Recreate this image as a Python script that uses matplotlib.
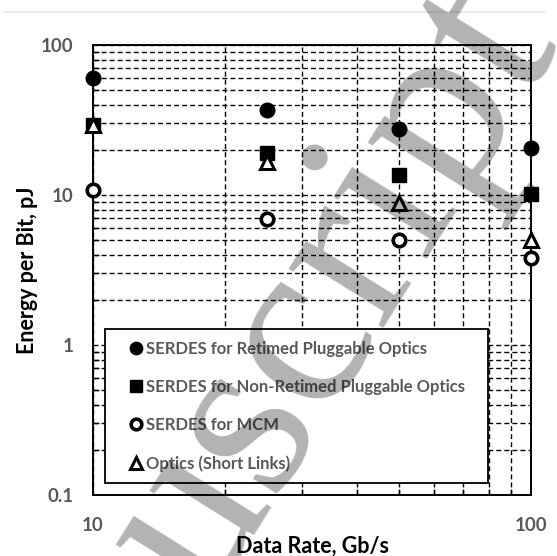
import matplotlib
matplotlib.use("Agg")
import matplotlib.pyplot as plt
from matplotlib.lines import Line2D
from matplotlib.ticker import LogLocator, FixedLocator, NullFormatter, FixedFormatter

plt.rcParams["font.family"] = ["Lato", "DejaVu Sans"]

# data
data_rate = [10, 25, 50, 100]
retimed = [60, 37, 27.5, 20.5]
non_retimed = [29.5, 19, 13.6, 10.2]
mcm = [10.8, 6.9, 5.0, 3.8]
optics = [29.5, 16.6, 8.9, 5.0]

series_labels = [
    "SERDES for Retimed Pluggable Optics",
    "SERDES for Non-Retimed Pluggable Optics",
    "SERDES for MCM",
    "Optics (Short Links)",
]

x_ticks = [10, 100]
x_tick_labels = ["10", "100"]
y_ticks = [0.1, 1, 10, 100]
y_tick_labels = ["0.1", "1", "10", "100"]

GRAY_TXT = "#595959"

fig = plt.figure(figsize=(5.57, 5.56), dpi=100, facecolor="white")
ax = fig.add_axes([93 / 557, 61 / 556, 438 / 557, 450 / 556])

ax.set_xscale("log")
ax.set_yscale("log")
ax.set_xlim(10, 100)
ax.set_ylim(0.1, 100)

# dashed grid, major + minor
dash = (0, (3.6, 2.2))
ax.grid(True, which="both", color="black", linewidth=1.0, linestyle=dash, zorder=1)
ax.set_axisbelow(True)

ax.plot(data_rate, retimed, "o", ms=10.5, color="black", mec="black",
        label=series_labels[0], zorder=3, clip_on=False)
ax.plot(data_rate, non_retimed, "s", ms=9.5, color="black", mec="black",
        label=series_labels[1], zorder=3, clip_on=False)
ax.plot(data_rate, mcm, "o", ms=9, mfc="white", mec="black", mew=2.6,
        label=series_labels[2], zorder=3, clip_on=False)
ax.plot(data_rate, optics, "^", ms=10, mfc="white", mec="black", mew=2.2,
        label=series_labels[3], zorder=3, clip_on=False)

ax.xaxis.set_major_locator(FixedLocator(x_ticks))
ax.xaxis.set_major_formatter(FixedFormatter(x_tick_labels))
ax.yaxis.set_major_locator(FixedLocator(y_ticks))
ax.yaxis.set_major_formatter(FixedFormatter(y_tick_labels))
ax.xaxis.set_minor_locator(LogLocator(base=10, subs=range(2, 10)))
ax.yaxis.set_minor_locator(LogLocator(base=10, subs=range(2, 10)))
ax.xaxis.set_minor_formatter(NullFormatter())
ax.yaxis.set_minor_formatter(NullFormatter())

ax.tick_params(which="major", length=0)
ax.tick_params(axis="x", which="major", pad=16)
ax.tick_params(axis="y", which="major", pad=14)
ax.tick_params(which="minor", direction="in", length=4, width=1, color="black")
for lab in ax.get_xticklabels() + ax.get_yticklabels():
    lab.set_color(GRAY_TXT)
    lab.set_fontsize(13.5)
    lab.set_fontweight("bold")

for sp in ax.spines.values():
    sp.set_color("black")
    sp.set_linewidth(1.4)

ax.set_xlabel("Data Rate, Gb/s", fontsize=15.5, fontweight="bold", labelpad=1)
ax.set_ylabel("Energy per Bit, pJ", fontsize=15.5, fontweight="bold", labelpad=2)

leg = ax.legend(
    loc="lower left",
    bbox_to_anchor=(0.027, 0.027, 0.875, 0.344),
    mode="expand",
    fontsize=12,
    frameon=True,
    fancybox=False,
    framealpha=1,
    edgecolor="black",
    borderpad=0.67,
    labelspacing=1.33,
    handlelength=2.4,
    handletextpad=-0.6,
    markerscale=0.85,
    borderaxespad=0,
)
leg.get_frame().set_linewidth(1.3)
leg.set_zorder(4)
for t in leg.get_texts():
    t.set_color(GRAY_TXT)
    t.set_fontweight("bold")

# thin page rule at the top
fig.add_artist(Line2D([4 / 557, 545 / 557], [1 - 12 / 556, 1 - 12 / 556],
                      color="#e6e6e6", linewidth=1.2))

# watermark
fig.text(214 / 557, 1 - 478 / 556, "Manuscript", family="Liberation Serif",
         fontsize=175, color="black", alpha=0.3, rotation=58,
         rotation_mode="anchor", ha="center", va="center", zorder=10)

fig.savefig("out.png", dpi=100)
